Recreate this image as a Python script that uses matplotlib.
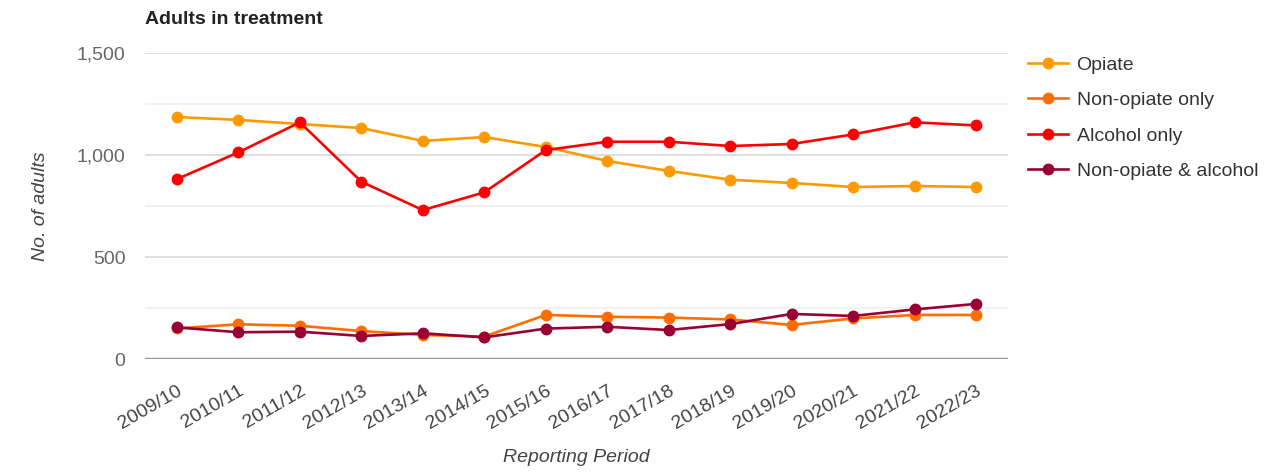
import numpy as np
import matplotlib.pyplot as plt
from matplotlib.ticker import MultipleLocator, FuncFormatter

plt.rcParams['font.family'] = ['Liberation Sans', 'DejaVu Sans']

# data
periods = ['2009/10', '2010/11', '2011/12', '2012/13', '2013/14', '2014/15', '2015/16',
           '2016/17', '2017/18', '2018/19', '2019/20', '2020/21', '2021/22', '2022/23']
opiate = [1186, 1172, 1152, 1132, 1069, 1088, 1039, 971, 922, 879, 863, 843, 848, 843]
non_opiate_only = [150, 170, 163, 137, 118, 110, 216, 207, 203, 194, 167, 199, 216, 216]
alcohol_only = [882, 1013, 1160, 869, 730, 817, 1024, 1065, 1065, 1044, 1054, 1101, 1160, 1145]
non_opiate_alcohol = [155, 131, 134, 113, 126, 106, 149, 158, 142, 171, 221, 211, 243, 270]

series = [('Opiate', opiate, '#FF9900'),
          ('Non-opiate only', non_opiate_only, '#FF6D00'),
          ('Alcohol only', alcohol_only, '#FF0000'),
          ('Non-opiate & alcohol', non_opiate_alcohol, '#990033')]

fig = plt.figure(figsize=(12.84, 4.72), dpi=100)
ax = fig.add_axes([145/1284, 1-359/472, (1008-145)/1284, (359-53)/472])

x = np.arange(len(periods))
for name, vals, col in series:
    ax.plot(x, vals, color=col, lw=1.9, marker='o', ms=7.5, label=name, zorder=3)

ax.set_xlim(-0.52, len(periods) - 1 + 0.52)
ax.set_ylim(0, 1500)
ax.yaxis.set_major_locator(MultipleLocator(500))
ax.yaxis.set_minor_locator(MultipleLocator(250))
ax.yaxis.set_major_formatter(FuncFormatter(lambda v, p: f'{int(v):,}'))
ax.grid(which='major', axis='y', color='#d9d9d9', lw=1.2)
ax.grid(which='minor', axis='y', color='#efefef', lw=1.2)
ax.axhline(0, color='#999999', lw=2.5, zorder=2)
for s in ax.spines.values():
    s.set_visible(False)

ax.set_xticks(x)
ax.set_xticklabels(periods, rotation=30, ha='right', va='top', rotation_mode='anchor',
                   fontsize=14, color='#444444')
ax.tick_params(axis='x', length=0, pad=17)
ax.tick_params(axis='y', which='both', length=0, pad=14, labelsize=14, labelcolor='#666666')

ax.set_xlabel('Reporting Period', fontsize=14, style='italic', color='#444444', labelpad=12)
ax.set_ylabel('No. of adults', fontsize=14, style='italic', color='#444444', labelpad=20)

fig.text(145/1284, 1-19/472, 'Adults in treatment', fontsize=14, fontweight='bold',
         color='#222222', ha='left', va='center')

leg = ax.legend(loc='upper left', bbox_to_anchor=(1028/1284, 1-56/472),
                bbox_transform=fig.transFigure, frameon=False, fontsize=14,
                handlelength=2.05, handletextpad=0.45, labelspacing=0.92,
                borderaxespad=0, borderpad=0)
for t in leg.get_texts():
    t.set_color('#333333')

fig.savefig('out.png', dpi=100)
